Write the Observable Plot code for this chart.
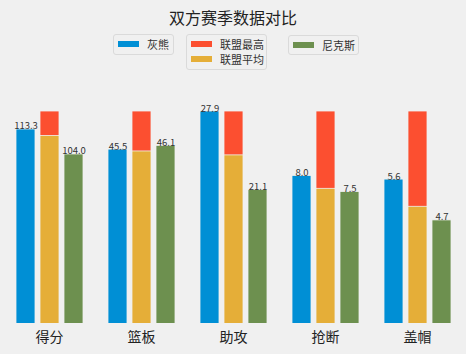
<!DOCTYPE html>
<html>
<head>
<meta charset="utf-8">
<script src="https://cdn.jsdelivr.net/npm/d3@7"></script>
<script src="https://cdn.jsdelivr.net/npm/@observablehq/plot@0.6"></script>
<style>
  html, body { margin: 0; padding: 0; background: #f0f0f0; }
  body { font-family: "Noto Sans CJK SC", sans-serif; }
  #wrap { position: relative; width: 466px; height: 354px; background: #f0f0f0; overflow: hidden; }
  #title { position: absolute; left: 0; width: 466px; top: 6px; text-align: center; font-size: 16px; color: #222; line-height: 22px; }
  .lbox { position: absolute; border: 1px solid #dadada; border-radius: 3px; background: #f0f0f0; box-sizing: border-box; }
  .item { position: absolute; font-size: 11px; color: #333; line-height: 14px; white-space: nowrap; }
  .sw { position: absolute; width: 21px; height: 6px; }
  #chart { position: absolute; left: 0; top: 0; }
</style>
</head>
<body>
<div id="wrap">
  <div id="title">双方赛季数据对比</div>
  <div id="legend"></div>
  <div id="chart"></div>
</div>
<script>
// ---- data ----
const categories = ["得分", "篮板", "助攻", "抢断", "盖帽"];
const seriesNames = ["灰熊", "联盟最高", "联盟平均", "尼克斯"];
const grizzlies  = [113.3, 45.5, 27.9, 8.0, 5.6];
const leagueMax  = [120.0, 51.6, 27.9, 10.0, 7.1];
const leagueAvg  = [110.9, 45.2, 24.1, 7.6, 5.0];
const knicks     = [104.0, 46.1, 21.1, 7.5, 4.7];
const colors = ["#008fd5", "#fc4f30", "#e5ae38", "#6d904f"];

// ---- table (values normalized by league max per category) ----
const rows = [];
categories.forEach((c, i) => {
  const m = leagueMax[i];
  rows.push({cat: c, series: "联盟最高", slot: "联盟平均", value: leagueMax[i], norm: leagueMax[i] / m, label: false});
  rows.push({cat: c, series: "灰熊", slot: "灰熊", value: grizzlies[i], norm: grizzlies[i] / m, label: true});
  rows.push({cat: c, series: "联盟平均", slot: "联盟平均", value: leagueAvg[i], norm: leagueAvg[i] / m, label: false});
  rows.push({cat: c, series: "尼克斯", slot: "尼克斯", value: knicks[i], norm: knicks[i] / m, label: true});
});

const chart = Plot.plot({
  width: 466,
  height: 354,
  marginTop: 111,
  marginBottom: 31,
  marginLeft: 2,
  marginRight: 2,
  style: {background: "transparent", fontFamily: "Noto Sans CJK SC, sans-serif"},
  fx: {domain: categories, padding: 0, label: null, tickSize: 0, tickPadding: 9, fontSize: 14},
  x: {domain: ["灰熊", "联盟平均", "尼克斯"], paddingInner: 0.228, paddingOuter: 0.464, axis: null},
  y: {domain: [0.342, 1], axis: null},
  color: {domain: seriesNames, range: colors},
  marks: [
    Plot.barY(rows, {fx: "cat", x: "slot", y1: 0, y2: "norm", fill: "series", stroke: "#f0f0f0", strokeWidth: 0.8, clip: true}),
    Plot.text(rows.filter(d => d.label), {fx: "cat", x: "slot", y: "norm", text: d => d.value.toFixed(1), lineAnchor: "bottom", dy: 0, fontSize: 9.5, fill: "#333"})
  ]
});
chart.querySelectorAll("g[aria-label='fx-axis tick label'] text, g[aria-label='fx-axis'] text").forEach(t => { t.style.fontSize = "14px"; t.style.fill = "#222"; });
document.getElementById("chart").appendChild(chart);

// ---- legend (three framed columns) ----
const legend = document.getElementById("legend");
const boxes = [
  {x: 113, y: 34, w: 61, h: 21, items: ["灰熊"]},
  {x: 186, y: 34, w: 81, h: 36, items: ["联盟最高", "联盟平均"]},
  {x: 288, y: 35, w: 71, h: 20, items: ["尼克斯"]}
];
boxes.forEach(b => {
  const box = document.createElement("div");
  box.className = "lbox";
  Object.assign(box.style, {left: b.x + "px", top: b.y + "px", width: b.w + "px", height: b.h + "px"});
  legend.appendChild(box);
  b.items.forEach((name, j) => {
    const sw = document.createElement("div");
    sw.className = "sw";
    sw.style.background = colors[seriesNames.indexOf(name)];
    sw.style.left = (b.x + 5) + "px";
    sw.style.top = (b.y + 7 + j * 15) + "px";
    legend.appendChild(sw);
    const t = document.createElement("div");
    t.className = "item";
    t.textContent = name;
    t.style.left = (b.x + 34) + "px";
    t.style.top = (b.y + 3 + j * 15) + "px";
    legend.appendChild(t);
  });
});
</script>
</body>
</html>
